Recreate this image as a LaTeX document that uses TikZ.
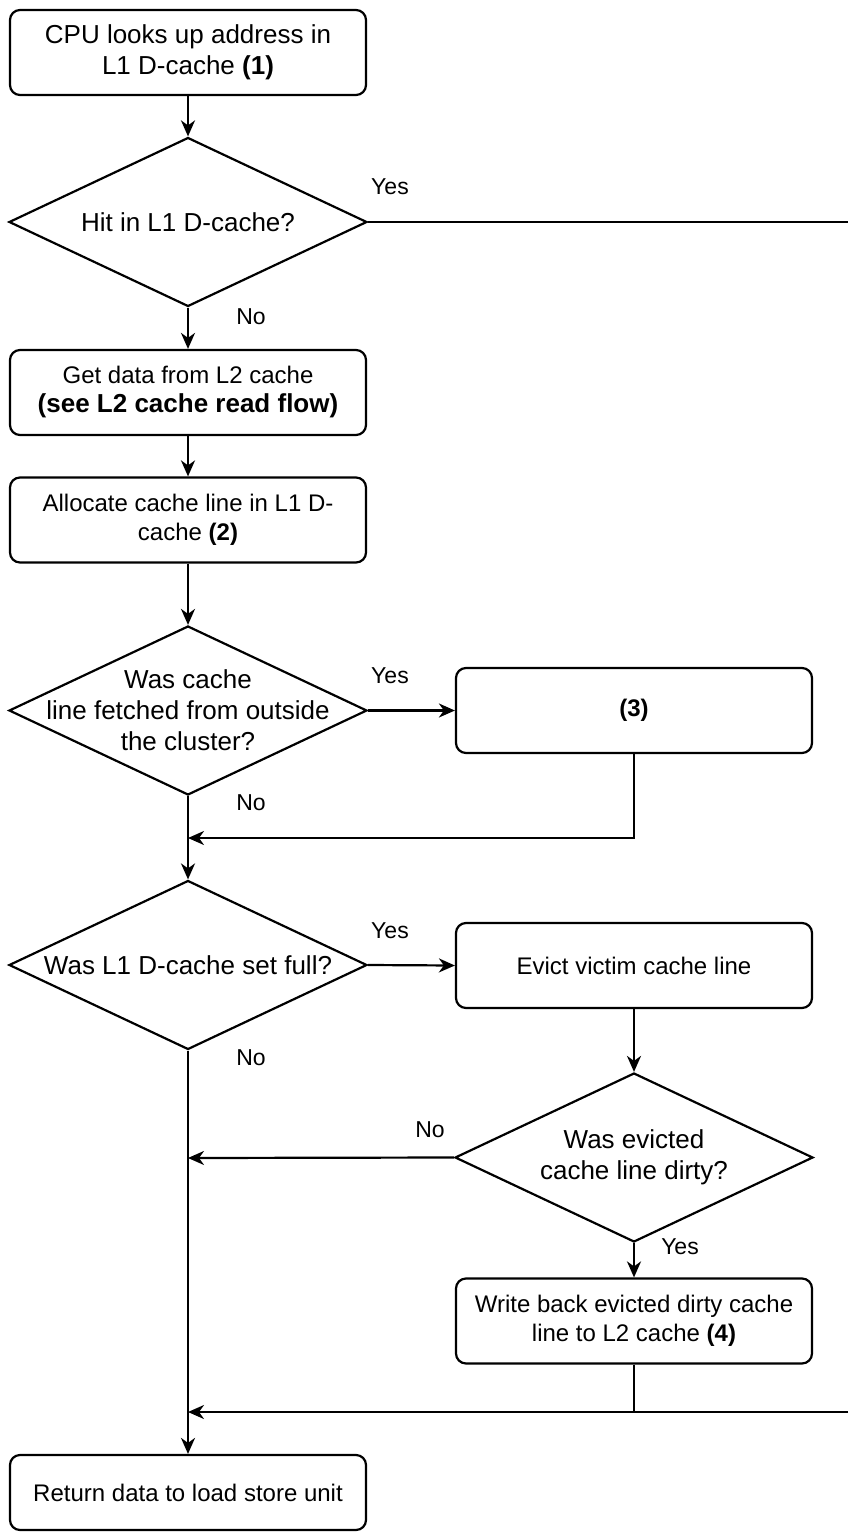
\documentclass[tikz,border=0pt]{standalone}
\usepackage{fontspec}
\setmainfont{Liberation Sans}
\usetikzlibrary{shapes.geometric,arrows.meta}
\begin{document}
\begin{tikzpicture}[x=0.5pt,y=-0.5pt,
  every path/.style={line width=1.1pt},
  box/.style={draw, rounded corners=5pt, minimum width=178pt, minimum height=42.5pt, align=center, inner sep=0pt, font=\fontsize{12}{14.5}\selectfont},
  bigbox/.style={box, font=\fontsize{13}{15.5}\selectfont},
  dia/.style={draw, diamond, minimum width=179pt, minimum height=84.5pt, inner sep=0pt},
  dtxt/.style={align=center, inner sep=0pt, font=\fontsize{13}{15.5}\selectfont},
  lbl/.style={inner sep=0pt, font=\fontsize{11.5}{13}\selectfont},
  arr/.style={-{Stealth[length=8pt,width=7pt,inset=2.5pt]}}
]
\useasboundingbox (0,0) rectangle (848,1535);

\node[bigbox] (b1) at (188,52.5) {CPU looks up address in\\L1 D-cache \textbf{(1)}};
\node[dia] (d1) at (188,222) {};
\node[dtxt] (d1t) at (d1) {Hit in L1 D-cache?};
\node[box] (b2) at (188,392.5) {Get data from L2 cache\\{\fontsize{13}{15.5}\selectfont\textbf{(see L2 cache read flow)}}};
\node[box] (b3) at (188,520) {Allocate cache line in L1 D-\\cache \textbf{(2)}};
\node[dia] (d2) at (188,710.5) {};
\node[dtxt] (d2t) at (d2) {Was cache\\line fetched from outside\\the cluster?};
\node[box] (b4) at (634,710.5) {\textbf{(3)}};
\node[dia] (d3) at (188,965) {};
\node[dtxt] (d3t) at (d3) {Was L1 D-cache set full?};
\node[box] (b5) at (634,965.5) {Evict victim cache line};
\node[dia] (d4) at (634,1157.5) {};
\node[dtxt] (d4t) at (d4) {Was evicted\\cache line dirty?};
\node[box] (b6) at (634,1321) {Write back evicted dirty cache\\line to L2 cache \textbf{(4)}};
\node[box, minimum height=37.5pt] (b7) at (188,1492.5) {Return data to load store unit};

\coordinate (e1) at (848,222);
\coordinate (j1) at (188,838);
\coordinate (j2) at (188,1158);
\coordinate (j3) at (188,1412);
\coordinate (e2) at (848,1412);
\coordinate (k3) at (634,1412);

\draw[arr] (b1) -- (d1);
\draw (d1.east) -- (e1);
\draw[arr] (d1) -- (b2);
\draw[arr] (b2) -- (b3);
\draw[arr] (b3) -- (d2);
\draw[arr] (d2.east) -- (b4.west);
\draw[arr] (b4.south) |- (j1);
\draw[arr] (d2.south) -- (d3.north);
\draw[arr] (d3.east) -- (b5.west);
\draw[arr] (b5) -- (d4);
\draw[arr] (d4.west) -- (j2);
\draw[arr] (d4.south) -- (b6.north);
\draw (b6.south) -- (k3);
\draw[arr] (e2) -- (j3);
\draw[arr] (d3.south) -- (b7.north);

\node[lbl] (y1) at (390,187) {Yes};
\node[lbl] (n1) at (251,317) {No};
\node[lbl] (y2) at (390,676) {Yes};
\node[lbl] (n2) at (251,803) {No};
\node[lbl] (y3) at (390,931) {Yes};
\node[lbl] (n3) at (251,1058) {No};
\node[lbl] (n4) at (430,1130) {No};
\node[lbl] (y4) at (680,1247) {Yes};
\end{tikzpicture}
\end{document}
